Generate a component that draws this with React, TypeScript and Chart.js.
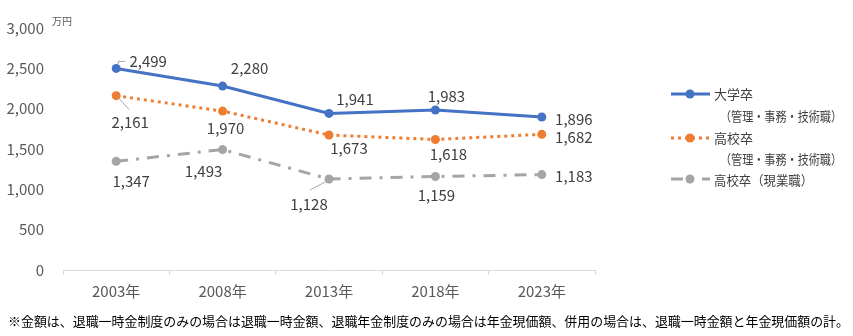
import React, { useEffect, useRef } from "react";
import { Chart, registerables } from "chart.js";

Chart.register(...registerables);

const categories = ["2003年", "2008年", "2013年", "2018年", "2023年"];
const univOffice = [2499, 2280, 1941, 1983, 1896];
const highOffice = [2161, 1970, 1673, 1618, 1682];
const highField = [1347, 1493, 1128, 1159, 1183];
const yTicks = [0, 500, 1000, 1500, 2000, 2500, 3000];

const FONT = '"Noto Sans CJK JP", "Noto Sans", sans-serif';
const BLUE = "#4472C4";
const ORANGE = "#ED7D31";
const GRAY = "#A5A5A5";
const LABEL_COLOR = "#404040";
const AXIS_TEXT = "#595959";

// label offsets (text centre relative to point), per series
const labelOffsets = [
  [[32, -7], [27, -18], [26, -14], [11, -14], [32, 2]],
  [[14, 27], [3, 17], [20, 13], [13, 15], [32, 3]],
  [[15, 20], [-19, 22], [-20, 25], [1, 19], [32, 2]],
];
// leader lines: [series, index, points relative to data point]
const leaders: [number, number, number[][]][] = [
  [0, 0, [[2, -4], [2, -7], [9, -7]]],
  [1, 0, [[3, 3], [13, 14]]],
  [2, 2, [[-4, 3], [-19, 11]]],
];

const fmt = (v: number) => v.toLocaleString("en-US");

const overlayPlugin = {
  id: "overlay",
  afterDatasetsDraw(chart: any) {
    const ctx = chart.ctx as CanvasRenderingContext2D;
    ctx.save();
    // leader lines
    ctx.strokeStyle = "#A6A6A6";
    ctx.lineWidth = 1;
    leaders.forEach(([ds, idx, pts]) => {
      const el = chart.getDatasetMeta(ds).data[idx];
      ctx.beginPath();
      pts.forEach((p, i) => {
        const x = el.x + p[0];
        const y = el.y + p[1];
        if (i === 0) ctx.moveTo(x, y);
        else ctx.lineTo(x, y);
      });
      ctx.stroke();
    });
    // data labels
    ctx.font = `15px ${FONT}`;
    ctx.fillStyle = LABEL_COLOR;
    ctx.textAlign = "center";
    ctx.textBaseline = "middle";
    chart.data.datasets.forEach((d: any, ds: number) => {
      const meta = chart.getDatasetMeta(ds);
      meta.data.forEach((el: any, i: number) => {
        const off = labelOffsets[ds][i];
        ctx.fillText(fmt(d.data[i]), el.x + off[0], el.y + off[1]);
      });
    });
    // unit
    ctx.font = `10px ${FONT}`;
    ctx.fillStyle = AXIS_TEXT;
    ctx.textAlign = "left";
    ctx.fillText("万円", 52, 21);

    // legend
    const drawLegendLine = (y: number, color: string, dash: number[]) => {
      ctx.strokeStyle = color;
      ctx.lineWidth = 3;
      ctx.setLineDash(dash);
      ctx.beginPath();
      ctx.moveTo(671, y);
      ctx.lineTo(710, y);
      ctx.stroke();
      ctx.setLineDash([]);
      ctx.fillStyle = color;
      ctx.beginPath();
      ctx.arc(690, y, 4.5, 0, Math.PI * 2);
      ctx.fill();
    };
    drawLegendLine(94, BLUE, []);
    drawLegendLine(138, ORANGE, [3, 4]);
    drawLegendLine(179, GRAY, [12, 8, 3, 8]);
    ctx.fillStyle = LABEL_COLOR;
    ctx.font = `13px ${FONT}`;
    ctx.textBaseline = "middle";
    ctx.textAlign = "left";
    ctx.fillText("大学卒", 714, 94);
    ctx.fillText("（管理・事務・技術職）", 720, 116, 122);
    ctx.fillText("高校卒", 714, 138);
    ctx.fillText("（管理・事務・技術職）", 720, 159, 122);
    ctx.fillText("高校卒（現業職）", 714, 180, 99);

    // footnote
    ctx.fillStyle = "#000000";
    ctx.font = `13px ${FONT}`;
    ctx.fillText(
      "※金額は、退職一時金制度のみの場合は退職一時金額、退職年金制度のみの場合は年金現価額、併用の場合は、退職一時金額と年金現価額の計。",
      8,
      321,
      841
    );
    ctx.restore();
  },
};

export default function App() {
  const ref = useRef<HTMLCanvasElement | null>(null);
  useEffect(() => {
    if (!ref.current) return;
    const chart = new Chart(ref.current, {
      type: "line",
      data: {
        labels: categories,
        datasets: [
          {
            label: "大学卒（管理・事務・技術職）",
            data: univOffice,
            borderColor: BLUE,
            backgroundColor: BLUE,
            borderWidth: 3,
            pointRadius: 4.5,
            pointBorderWidth: 0,
            tension: 0,
          },
          {
            label: "高校卒（管理・事務・技術職）",
            data: highOffice,
            borderColor: ORANGE,
            backgroundColor: ORANGE,
            borderWidth: 3,
            borderDash: [3, 4],
            pointRadius: 4.5,
            pointBorderWidth: 0,
            tension: 0,
          },
          {
            label: "高校卒（現業職）",
            data: highField,
            borderColor: GRAY,
            backgroundColor: GRAY,
            borderWidth: 3,
            borderDash: [12, 8, 3, 8],
            pointRadius: 4.5,
            pointBorderWidth: 0,
            tension: 0,
          },
        ],
      },
      options: {
        responsive: false,
        maintainAspectRatio: false,
        animation: false,
        layout: { padding: { top: 22, right: 258, left: 0, bottom: 0 } },
        plugins: { legend: { display: false }, tooltip: { enabled: false } },
        scales: {
          x: {
            offset: true,
            grid: {
              display: true,
              offset: true,
              drawOnChartArea: false,
              drawTicks: true,
              tickLength: 5,
              color: "#D9D9D9",
            },
            border: { display: true, color: "#D9D9D9" },
            ticks: { font: { family: FONT, size: 15 }, color: AXIS_TEXT, padding: 7, maxRotation: 0 },
            afterFit(scale: any) {
              scale.height = 66;
            },
          },
          y: {
            min: 0,
            max: 3000,
            afterBuildTicks(scale: any) {
              scale.ticks = yTicks.map((v) => ({ value: v }));
            },
            grid: { display: false, drawTicks: false },
            border: { display: false },
            ticks: {
              font: { family: FONT, size: 15 },
              color: AXIS_TEXT,
              padding: 19,
              callback: (v: any) => fmt(Number(v)),
            },
            afterFit(scale: any) {
              scale.width = 63;
            },
          },
        },
      },
      plugins: [overlayPlugin],
    });
    return () => chart.destroy();
  }, []);
  return (
    <div style={{ position: "fixed", left: 0, top: 0, width: 853, height: 336, background: "#fff" }}>
      <canvas ref={ref} width={853} height={336} style={{ display: "block" }} />
    </div>
  );
}
